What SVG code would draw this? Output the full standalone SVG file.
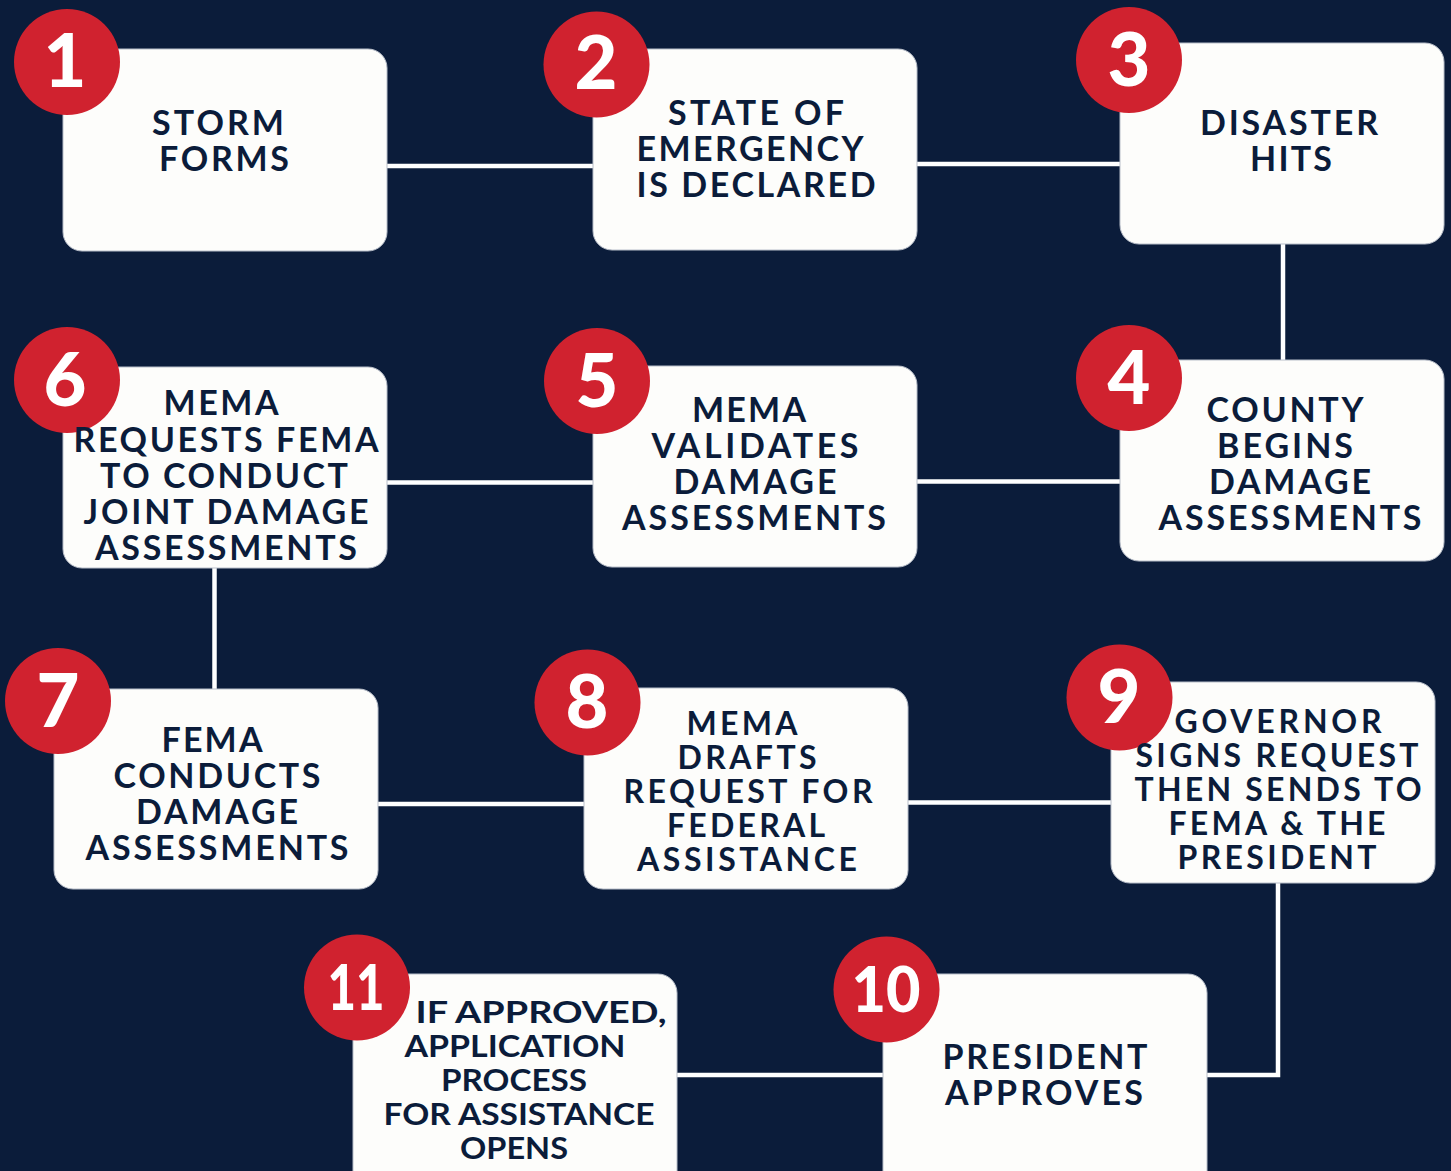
<svg xmlns="http://www.w3.org/2000/svg" width="1451" height="1171" viewBox="0 0 1451 1171">
<style>
.box{fill:#fdfdfb;stroke:#b9bfca;stroke-width:1}
.num{fill:#d0222f}
.d{fill:#ffffff;font-family:Lato,"Liberation Sans",sans-serif;font-weight:900;font-size:74px;text-anchor:middle}
.d2{fill:#ffffff;font-family:Lato,"Liberation Sans",sans-serif;font-weight:900;font-size:62px;text-anchor:middle}
.t{fill:#0b1c3a;font-family:Lato,"Liberation Sans",sans-serif;font-weight:700;font-size:34px;text-anchor:middle}
.s{fill:#0b1c3a;font-family:Lato,"Liberation Sans",sans-serif;font-weight:700;font-size:32px;text-anchor:middle}
.c{fill:#0b1c3a;font-family:Lato,"Liberation Sans",sans-serif;font-weight:700;font-size:31px;text-anchor:middle}
.ln{stroke:#ffffff;stroke-width:4.5;fill:none}
</style>
<rect width="1451" height="1171" fill="#0b1c3a"/>
<g id="connectors">
<line class="ln" x1="387" y1="166" x2="593" y2="166"/>
<line class="ln" x1="917" y1="164" x2="1120" y2="164"/>
<line class="ln" x1="1283" y1="244" x2="1283" y2="360"/>
<line class="ln" x1="917" y1="481.5" x2="1120" y2="481.5"/>
<line class="ln" x1="387" y1="482.5" x2="593" y2="482.5"/>
<line class="ln" x1="214.5" y1="568" x2="214.5" y2="689"/>
<line class="ln" x1="378" y1="804" x2="584" y2="804"/>
<line class="ln" x1="908" y1="802.5" x2="1111" y2="802.5"/>
<polyline class="ln" points="1278,883 1278,1075 1207,1075"/>
<line class="ln" x1="677" y1="1075" x2="883" y2="1075"/>
</g>
<g id="node1">
<rect class="box" x="63" y="49" width="324" height="202" rx="19"/>
<circle class="num" cx="67" cy="62" r="53"/>
<text class="d" x="65" y="87">1</text>
<text class="t" x="218" y="135" textLength="132" lengthAdjust="spacing">STORM</text>
<text class="t" x="224" y="171" textLength="130" lengthAdjust="spacing">FORMS</text>
</g>
<g id="node2">
<rect class="box" x="593" y="49" width="324" height="201" rx="19"/>
<circle class="num" cx="596.5" cy="64.5" r="53"/>
<text class="d" x="596" y="89">2</text>
<text class="t" x="756" y="125" textLength="176" lengthAdjust="spacing">STATE OF</text>
<text class="t" x="750" y="161" textLength="227" lengthAdjust="spacing">EMERGENCY</text>
<text class="t" x="756" y="197" textLength="239" lengthAdjust="spacing">IS DECLARED</text>
</g>
<g id="node3">
<rect class="box" x="1120" y="43" width="324" height="201" rx="19"/>
<circle class="num" cx="1129" cy="60" r="53"/>
<text class="d" x="1129" y="86">3</text>
<text class="t" x="1289" y="135" textLength="178" lengthAdjust="spacing">DISASTER</text>
<text class="t" x="1291" y="171" textLength="82" lengthAdjust="spacing">HITS</text>
</g>
<g id="node4">
<rect class="box" x="1120" y="360" width="324" height="201" rx="19"/>
<circle class="num" cx="1129" cy="378" r="53"/>
<text class="d" x="1129" y="404">4</text>
<text class="t" x="1285" y="422" textLength="157" lengthAdjust="spacing">COUNTY</text>
<text class="t" x="1285" y="458" textLength="136" lengthAdjust="spacing">BEGINS</text>
<text class="t" x="1290" y="494" textLength="162" lengthAdjust="spacing">DAMAGE</text>
<text class="t" x="1290" y="530" textLength="263" lengthAdjust="spacing">ASSESSMENTS</text>
</g>
<g id="node5">
<rect class="box" x="593" y="366" width="324" height="201" rx="19"/>
<circle class="num" cx="597" cy="381" r="53"/>
<text class="d" x="597" y="407">5</text>
<text class="t" x="749" y="422" textLength="114" lengthAdjust="spacing">MEMA</text>
<text class="t" x="755" y="458" textLength="207" lengthAdjust="spacing">VALIDATES</text>
<text class="t" x="755" y="494" textLength="163" lengthAdjust="spacing">DAMAGE</text>
<text class="t" x="754" y="530" textLength="264" lengthAdjust="spacing">ASSESSMENTS</text>
</g>
<g id="node6">
<rect class="box" x="63" y="367" width="324" height="201" rx="19"/>
<circle class="num" cx="67" cy="380" r="53"/>
<text class="d" x="65" y="406">6</text>
<text class="t" x="221" y="415" textLength="115" lengthAdjust="spacing">MEMA</text>
<text class="t" x="226" y="452" textLength="305" lengthAdjust="spacing">REQUESTS FEMA</text>
<text class="t" x="224" y="488" textLength="248" lengthAdjust="spacing">TO CONDUCT</text>
<text class="t" x="226" y="524" textLength="285" lengthAdjust="spacing">JOINT DAMAGE</text>
<text class="t" x="226" y="560" textLength="262" lengthAdjust="spacing">ASSESSMENTS</text>
</g>
<g id="node7">
<rect class="box" x="54" y="689" width="324" height="200" rx="19"/>
<circle class="num" cx="58" cy="701" r="53"/>
<text class="d" x="58" y="727">7</text>
<text class="t" x="212" y="752" textLength="101" lengthAdjust="spacing">FEMA</text>
<text class="t" x="217" y="788" textLength="207" lengthAdjust="spacing">CONDUCTS</text>
<text class="t" x="217" y="824" textLength="162" lengthAdjust="spacing">DAMAGE</text>
<text class="t" x="217" y="860" textLength="263" lengthAdjust="spacing">ASSESSMENTS</text>
</g>
<g id="node8">
<rect class="box" x="584" y="688" width="324" height="201" rx="19"/>
<circle class="num" cx="587.5" cy="702.5" r="53"/>
<text class="d" x="587" y="728">8</text>
<text class="s" x="742" y="735" textLength="111" lengthAdjust="spacing">MEMA</text>
<text class="s" x="747" y="769" textLength="139" lengthAdjust="spacing">DRAFTS</text>
<text class="s" x="748" y="803" textLength="249" lengthAdjust="spacing">REQUEST FOR</text>
<text class="s" x="746" y="837" textLength="158" lengthAdjust="spacing">FEDERAL</text>
<text class="s" x="747" y="871" textLength="220" lengthAdjust="spacing">ASSISTANCE</text>
</g>
<g id="node9">
<rect class="box" x="1111" y="682" width="324" height="201" rx="19"/>
<circle class="num" cx="1119.5" cy="697.5" r="53"/>
<text class="d" x="1119" y="723">9</text>
<text class="s" x="1278" y="733" textLength="207" lengthAdjust="spacing">GOVERNOR</text>
<text class="s" x="1277" y="767" textLength="283" lengthAdjust="spacing">SIGNS REQUEST</text>
<text class="s" x="1278" y="801" textLength="287" lengthAdjust="spacing">THEN SENDS TO</text>
<text class="s" x="1277" y="835" textLength="217" lengthAdjust="spacing">FEMA &amp; THE</text>
<text class="s" x="1277" y="869" textLength="199" lengthAdjust="spacing">PRESIDENT</text>
</g>
<g id="node10">
<rect class="box" x="883" y="974" width="324" height="230" rx="19"/>
<circle class="num" cx="886.5" cy="989.5" r="53"/>
<text class="d2" x="886" y="1012" textLength="69" lengthAdjust="spacingAndGlyphs">10</text>
<text class="t" x="1045" y="1069" textLength="205" lengthAdjust="spacing">PRESIDENT</text>
<text class="t" x="1044" y="1105" textLength="198" lengthAdjust="spacing">APPROVES</text>
</g>
<g id="node11">
<rect class="box" x="353" y="974" width="324" height="230" rx="19"/>
<circle class="num" cx="357" cy="987.5" r="53"/>
<text class="d2" x="356" y="1010" textLength="57" lengthAdjust="spacingAndGlyphs">11</text>
<text class="c" x="541" y="1023" textLength="251" lengthAdjust="spacingAndGlyphs">IF APPROVED,</text>
<text class="c" x="515" y="1057" textLength="221" lengthAdjust="spacingAndGlyphs">APPLICATION</text>
<text class="c" x="514" y="1091" textLength="146" lengthAdjust="spacingAndGlyphs">PROCESS</text>
<text class="c" x="519" y="1125" textLength="271" lengthAdjust="spacingAndGlyphs">FOR ASSISTANCE</text>
<text class="c" x="514" y="1159" textLength="108" lengthAdjust="spacingAndGlyphs">OPENS</text>
</g>
</svg>
